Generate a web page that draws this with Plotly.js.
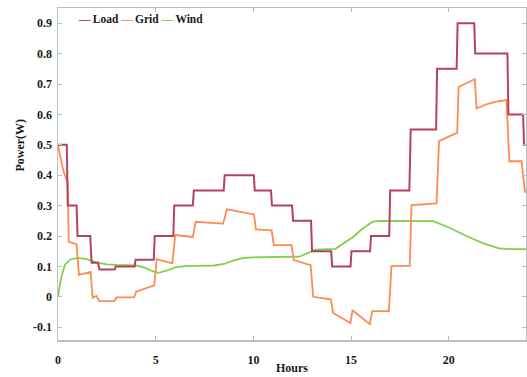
<!DOCTYPE html>
<html>
<head>
<meta charset="utf-8">
<script src="https://cdn.plot.ly/plotly-3.0.1.min.js"></script>
<style>html,body{margin:0;padding:0;background:#fff;}#chart{width:527px;height:377px;}</style>
</head>
<body>
<div id="chart"></div>
<script>
// ---- data ----
var seriesNames = ['Load', 'Grid', 'Wind'];
var seriesColors = ['#b6415c', '#ff8a52', '#7fd14a'];

var loadHours = [0, 0.45, 0.5, 0.95, 1.0, 1.65, 1.72, 2.05, 2.12, 2.9, 2.95, 3.92, 3.97, 4.9, 4.95, 5.9, 5.95, 6.9, 6.95, 8.48, 8.53, 10.02, 10.07, 10.9, 10.95, 11.98, 12.03, 12.95, 13.0, 13.98, 14.03, 14.97, 15.02, 15.97, 16.02, 16.95, 17.0, 17.98, 18.05, 19.35, 19.4, 20.4, 20.45, 21.3, 21.35, 23.0, 23.05, 23.8, 23.85, 24];
var loadPower = [0.5, 0.5, 0.3, 0.3, 0.2, 0.2, 0.112, 0.112, 0.09, 0.09, 0.1, 0.1, 0.122, 0.122, 0.2, 0.2, 0.3, 0.3, 0.35, 0.35, 0.4, 0.4, 0.35, 0.35, 0.3, 0.3, 0.25, 0.25, 0.15, 0.15, 0.1, 0.1, 0.15, 0.15, 0.2, 0.2, 0.35, 0.35, 0.55, 0.55, 0.75, 0.75, 0.9, 0.9, 0.8, 0.8, 0.6, 0.6, 0.5, 0.5];

var gridHours = [0, 0.1, 0.2, 0.3, 0.45, 0.5, 0.55, 0.95, 1.07, 1.67, 1.77, 1.97, 2.1, 2.88, 3.0, 3.9, 4.0, 4.93, 5.05, 5.85, 6.0, 6.9, 7.05, 8.45, 8.65, 10.03, 10.13, 10.93, 11.05, 11.95, 12.07, 12.93, 13.06, 13.96, 14.08, 14.97, 15.07, 15.96, 16.08, 16.93, 17.07, 18.0, 18.09, 19.37, 19.5, 20.43, 20.5, 21.33, 21.42, 22.0, 22.5, 22.95, 23.1, 23.72, 23.9, 24];
var gridPower = [0.5, 0.465, 0.435, 0.41, 0.388, 0.375, 0.181, 0.173, 0.072, 0.082, -0.003, 0.003, -0.014, -0.014, -0.002, -0.002, 0.017, 0.038, 0.124, 0.11, 0.203, 0.197, 0.247, 0.241, 0.288, 0.271, 0.222, 0.219, 0.17, 0.17, 0.121, 0.104, 0.0, -0.008, -0.053, -0.086, -0.044, -0.09, -0.047, -0.047, 0.102, 0.102, 0.302, 0.307, 0.512, 0.54, 0.69, 0.716, 0.62, 0.635, 0.643, 0.647, 0.446, 0.446, 0.345, 0.345];

var windHours = [0, 0.15, 0.35, 0.6, 1.0, 1.4, 2.0, 2.5, 3.0, 3.5, 4.0, 4.4, 4.8, 5.15, 5.5, 6.0, 6.5, 7.0, 8.0, 8.5, 9.0, 9.5, 10.0, 11.0, 12.35, 12.7, 13.2, 14.2, 14.6, 15.1, 15.6, 16.1, 16.5, 19.2, 20.0, 20.9, 21.8, 22.6, 23.2, 24];
var windPower = [0, 0.06, 0.105, 0.122, 0.128, 0.125, 0.113, 0.107, 0.105, 0.104, 0.103, 0.097, 0.085, 0.079, 0.085, 0.097, 0.101, 0.102, 0.103, 0.108, 0.12, 0.128, 0.13, 0.131, 0.132, 0.142, 0.155, 0.158, 0.175, 0.197, 0.225, 0.247, 0.25, 0.249, 0.228, 0.2, 0.175, 0.159, 0.157, 0.157];

var xTickVals = [0, 5, 10, 15, 20];
var yTickVals = [-0.1, 0, 0.1, 0.2, 0.3, 0.4, 0.5, 0.6, 0.7, 0.8, 0.9];
var yTickText = ['-0.1', '0', '0.1', '0.2', '0.3', '0.4', '0.5', '0.6', '0.7', '0.8', '0.9'];
var xTitle = 'Hours';
var yTitle = 'Power(W)';

// ---- chart ----
var serif = '"Liberation Serif", "Times New Roman", serif';
var xs = [loadHours, gridHours, windHours];
var ys = [loadPower, gridPower, windPower];
var widths = [2, 1.8, 1.8];
var traces = seriesNames.map(function (n, i) {
  return {
    x: xs[i], y: ys[i], name: n, type: 'scatter', mode: 'lines',
    line: {color: seriesColors[i], width: widths[i], shape: 'linear'},
    showlegend: false, hoverinfo: 'skip'
  };
});
// draw Wind, Grid, then Load on top
traces = [traces[2], traces[1], traces[0]];

var legendText = seriesNames.map(function (n, i) {
  return '<span style="color:' + seriesColors[i] + '">\u2014</span>\u2009' + n;
}).join(' ');

var layout = {
  width: 527, height: 377,
  margin: {l: 58, r: 1, t: 8, b: 37},
  paper_bgcolor: '#ffffff', plot_bgcolor: '#ffffff',
  font: {family: serif, size: 12, color: '#1a1a1a'},
  xaxis: {
    range: [0, 23.95], tickvals: xTickVals, ticks: 'inside', ticklen: 4,
    tickcolor: '#b8bec6', showgrid: false, zeroline: false,
    showline: true, linecolor: '#b8bec6', linewidth: 1.5, mirror: 'allticks',
    tickfont: {family: serif, size: 12, color: '#1a1a1a', weight: 'bold'},
    ticklabelstandoff: 8
  },
  yaxis: {
    range: [-0.142, 0.95], tickvals: yTickVals, ticktext: yTickText,
    ticks: 'inside', ticklen: 4, tickcolor: '#b8bec6',
    showgrid: false, zeroline: false,
    showline: true, linecolor: '#b8c2cc', linewidth: 1.5, mirror: 'allticks',
    tickfont: {family: serif, size: 12, color: '#1a1a1a', weight: 'bold'},
    ticklabelstandoff: 2
  },
  annotations: [
    {xref: 'paper', yref: 'paper', x: 0.038, y: 0.967, xanchor: 'left', yanchor: 'middle',
     text: legendText, showarrow: false,
     font: {family: serif, size: 11.5, color: '#1a1a1a', weight: 'bold'}},
    {xref: 'paper', yref: 'paper', x: 0.5, y: -0.111, xanchor: 'center', yanchor: 'bottom',
     text: xTitle, showarrow: false,
     font: {family: serif, size: 12, color: '#1a1a1a', weight: 'bold'}},
    {xref: 'paper', yref: 'paper', x: -0.081, y: 0.586, xanchor: 'center', yanchor: 'middle',
     text: yTitle, textangle: -90, showarrow: false,
     font: {family: serif, size: 12, color: '#1a1a1a', weight: 'bold'}}
  ]
};

Plotly.newPlot('chart', traces, layout, {staticPlot: true, displayModeBar: false});
</script>
</body>
</html>
